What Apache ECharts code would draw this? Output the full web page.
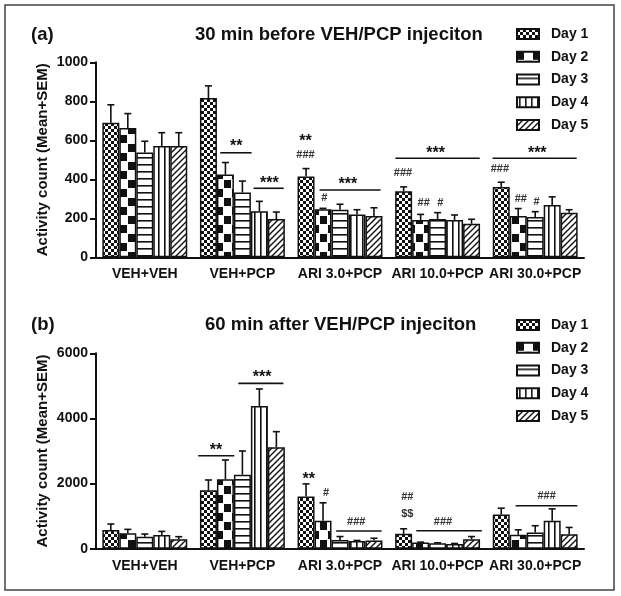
<!DOCTYPE html>
<html><head><meta charset="utf-8">
<script src="https://cdn.jsdelivr.net/npm/echarts@6/dist/echarts.min.js"></script>
<style>html,body{margin:0;padding:0;background:#fff}#c{width:621px;height:596px}</style>
</head><body><div id="c"></div>
<script>
// ---------- data ----------
const categories = ['VEH+VEH', 'VEH+PCP', 'ARI 3.0+PCP', 'ARI 10.0+PCP', 'ARI 30.0+PCP'];
const days = ['Day 1', 'Day 2', 'Day 3', 'Day 4', 'Day 5'];

// (a) 30 min before VEH/PCP injection: means and SEM per day
const a_day1 = [690, 817, 414, 339, 361];
const a_day2 = [663, 424, 246, 191, 212];
const a_day3 = [538, 332, 244, 196, 207];
const a_day4 = [571, 236, 220, 191, 268];
const a_day5 = [571, 196, 212, 172, 229];
const a_sem1 = [92, 62, 41, 22, 24];
const a_sem2 = [74, 62, 5, 29, 38];
const a_sem3 = [57, 59, 28, 33, 27];
const a_sem4 = [68, 51, 24, 26, 42];
const a_sem5 = [68, 36, 42, 23, 15];

// (b) 60 min after VEH/PCP injection
const b_day1 = [573, 1792, 1606, 456, 1047];
const b_day2 = [471, 2130, 860, 187, 425];
const b_day3 = [369, 2273, 269, 166, 497];
const b_day4 = [420, 4383, 238, 145, 860];
const b_day5 = [287, 3113, 249, 290, 446];
const b_sem1 = [185, 318, 384, 155, 197];
const b_sem2 = [123, 594, 549, 15, 155];
const b_sem3 = [81, 727, 104, 15, 208];
const b_sem4 = [112, 522, 15, 15, 363];
const b_sem5 = [82, 481, 72, 83, 207];

// tick labels
const yTicksA = [0, 200, 400, 600, 800, 1000];
const yTicksB = [0, 2000, 4000, 6000];

// significance marks: [x in category units, y value, text]
const marksA = [
  [0.937, 586, '**'], [1.276, 396, '***'],
  [1.646, 612, '**'], [1.646, 525, '###'], [1.840, 304, '#'], [2.080, 391, '***'],
  [2.645, 431, '###'], [2.857, 277, '##'], [3.029, 278, '#'], [2.980, 550, '***'],
  [3.638, 453, '###'], [3.853, 297, '##'], [4.014, 282, '#'], [4.021, 550, '***']
];
// significance lines: [x start, x end, y value]
const linesA = [
  [0.773, 1.094, 536], [1.115, 1.423, 354], [1.790, 2.416, 345],
  [2.567, 3.432, 508], [3.563, 4.425, 508]
];
const marksB = [
  [0.729, 3131, '**'], [1.201, 5385, '***'],
  [1.680, 2232, '**'], [1.858, 1701, '#'], [2.166, 829, '###'],
  [2.690, 1596, '##'], [2.690, 1065, '$$'], [3.055, 829, '###'],
  [4.117, 1627, '###']
];
const linesB = [
  [0.547, 0.917, 2855], [0.958, 1.420, 5078], [1.961, 2.426, 543],
  [2.782, 3.453, 553], [3.799, 4.432, 1320]
];

// ---------- styling ----------
const FONT = "Arial, 'Liberation Sans', Helvetica, sans-serif";
const INK = '#111';
const GAP = 0.13;

function mk(w, h, draw) {
  const c = document.createElement('canvas');
  c.width = w; c.height = h;
  const g = c.getContext('2d');
  g.fillStyle = '#fff'; g.fillRect(0, 0, w, h);
  g.fillStyle = INK; g.strokeStyle = INK;
  draw(g);
  return { image: c, repeat: 'repeat' };
}
const patterns = [
  mk(6, 6, g => { g.fillRect(0, 0, 3, 3); g.fillRect(3, 3, 3, 3); }),
  mk(16, 18, g => { g.fillRect(0, 0, 7, 8); g.fillRect(8, 9, 7, 8); }),
  mk(7, 7, g => { g.fillRect(0, 3, 7, 1.6); }),
  mk(6, 6, g => { g.fillRect(2, 0, 1.6, 6); }),
  mk(6, 6, g => {
    g.lineWidth = 1.4; g.beginPath();
    g.moveTo(-1, 7); g.lineTo(7, -1);
    g.moveTo(-1, 1); g.lineTo(1, -1);
    g.moveTo(5, 7); g.lineTo(7, 5);
    g.stroke();
  })
];

const chart = echarts.init(document.getElementById('c'), null, { renderer: 'canvas' });

const dataA = [a_day1, a_day2, a_day3, a_day4, a_day5];
const semA = [a_sem1, a_sem2, a_sem3, a_sem4, a_sem5];
const dataB = [b_day1, b_day2, b_day3, b_day4, b_day5];
const semB = [b_sem1, b_sem2, b_sem3, b_sem4, b_sem5];

function barSeries(vals, d, xi, yi) {
  return {
    type: 'bar', name: days[d], xAxisIndex: xi, yAxisIndex: yi, data: vals,
    barGap: '0%', barCategoryGap: (GAP * 100) + '%',
    itemStyle: { color: patterns[d], borderColor: INK, borderWidth: 1.5 },
    emphasis: { disabled: true }, z: 2
  };
}
function errSeries(vals, sems, d, xi, yi) {
  return {
    type: 'custom', xAxisIndex: xi, yAxisIndex: yi, silent: true, z: 5,
    data: vals.map((m, i) => [i, m, m + sems[i]]),
    encode: { x: 0, y: [1, 2] },
    renderItem: (p, api) => {
      const unit = api.size([1, 0])[0];
      const bw = unit * (1 - GAP) / 5;
      const base = api.coord([api.value(0), api.value(1)]);
      const top = api.coord([api.value(0), api.value(2)]);
      const x = base[0] + (d - 2) * bw;
      const cw = 3.5;
      return {
        type: 'group', children: [
          { type: 'line', shape: { x1: x, y1: base[1], x2: x, y2: top[1] }, style: { stroke: INK, lineWidth: 1.6 } },
          { type: 'line', shape: { x1: x - cw, y1: top[1], x2: x + cw, y2: top[1] }, style: { stroke: INK, lineWidth: 1.6 } }
        ]
      };
    }
  };
}
function markSeries(list, xi, yi) {
  return {
    type: 'custom', xAxisIndex: xi, yAxisIndex: yi, silent: true, z: 6,
    data: list.map(a => [a[0], a[1]]),
    encode: { x: 0, y: 1 },
    renderItem: (p, api) => {
      const pt = api.coord([api.value(0), api.value(1)]);
      const t = list[p.dataIndex][2];
      const star = t.indexOf('*') >= 0;
      return {
        type: 'text', x: pt[0], y: pt[1] + (star ? 4 : 0),
        style: {
          text: t, align: 'center', verticalAlign: 'middle',
          fontSize: star ? 16 : 11, fontWeight: 'bold', fontFamily: FONT,
          fill: star ? INK : '#333'
        }
      };
    }
  };
}
function lineSeries(list, xi, yi) {
  return {
    type: 'custom', xAxisIndex: xi, yAxisIndex: yi, silent: true, z: 6,
    data: list,
    encode: { x: [0, 1], y: 2 },
    renderItem: (p, api) => {
      const a = api.coord([api.value(0), api.value(2)]);
      const b = api.coord([api.value(1), api.value(2)]);
      return { type: 'line', shape: { x1: a[0], y1: a[1], x2: b[0], y2: b[1] }, style: { stroke: INK, lineWidth: 1.6 } };
    }
  };
}

const axisLbl = { color: INK, fontSize: 14, fontWeight: 'bold', fontFamily: FONT };
function catAxis(gi) {
  return {
    type: 'category', gridIndex: gi, data: categories,
    axisLine: { onZero: false, lineStyle: { color: INK, width: 2 } },
    axisTick: { alignWithLabel: true, length: 5, lineStyle: { color: INK, width: 2 } },
    axisLabel: Object.assign({ margin: 10, interval: 0 }, axisLbl)
  };
}
function hidAxis(gi) {
  return { type: 'value', gridIndex: gi, min: -0.5, max: 4.5, show: false, splitLine: { show: false } };
}
function valAxis(gi, ticks) {
  return {
    type: 'value', gridIndex: gi, min: ticks[0], max: ticks[ticks.length - 1],
    interval: ticks[1] - ticks[0],
    axisLine: { show: true, onZero: false, lineStyle: { color: INK, width: 2 } },
    axisTick: { show: true, length: 6, lineStyle: { color: INK, width: 2 } },
    splitLine: { show: false },
    axisLabel: Object.assign({ margin: 8, formatter: v => String(v) }, axisLbl),
    name: 'Activity count (Mean+SEM)', nameLocation: 'middle', nameGap: 46,
    nameMoveOverlap: false,
    nameTextStyle: { color: INK, fontSize: 15, fontWeight: 'bold', fontFamily: FONT }
  };
}
function legend(top) {
  return {
    data: days, orient: 'vertical', left: 516, top: top, icon: 'rect',
    itemWidth: 22, itemHeight: 10, itemGap: 6.75, selectedMode: false, padding: 0,
    textStyle: { color: INK, fontSize: 14, fontWeight: 'bold', fontFamily: FONT, lineHeight: 16, padding: [0, 0, 0, 7] }
  };
}
const titleStyle = { color: INK, fontSize: 18.5, fontWeight: 'bold', fontFamily: FONT, lineHeight: 20 };

const series = [];
for (let d = 0; d < 5; d++) series.push(barSeries(dataA[d], d, 0, 0));
for (let d = 0; d < 5; d++) series.push(barSeries(dataB[d], d, 2, 1));
for (let d = 0; d < 5; d++) series.push(errSeries(dataA[d], semA[d], d, 1, 0));
for (let d = 0; d < 5; d++) series.push(errSeries(dataB[d], semB[d], d, 3, 1));
series.push(markSeries(marksA, 1, 0), lineSeries(linesA, 1, 0));
series.push(markSeries(marksB, 3, 1), lineSeries(linesB, 3, 1));

chart.setOption({
  animation: false,
  backgroundColor: '#fff',
  title: [
    { text: '(a)', left: 31, top: 25, padding: 0, textStyle: titleStyle },
    { text: '30 min before VEH/PCP injeciton', left: 195, top: 25, padding: 0, textStyle: titleStyle },
    { text: '(b)', left: 31, top: 315, padding: 0, textStyle: titleStyle },
    { text: '60 min after VEH/PCP injeciton', left: 205, top: 315, padding: 0, textStyle: titleStyle }
  ],
  legend: [legend(26), legend(317)],
  grid: [
    { left: 96, top: 62.3, width: 488, height: 195 },
    { left: 96, top: 353.3, width: 488, height: 195.4 }
  ],
  xAxis: [catAxis(0), hidAxis(0), catAxis(1), hidAxis(1)],
  yAxis: [valAxis(0, yTicksA), valAxis(1, yTicksB)],
  graphic: [{
    type: 'rect', silent: true, z: 100,
    shape: { x: 5, y: 5, width: 609, height: 585 },
    style: { fill: 'none', stroke: '#444', lineWidth: 1.5 }
  }],
  series: series
});
</script></body></html>
